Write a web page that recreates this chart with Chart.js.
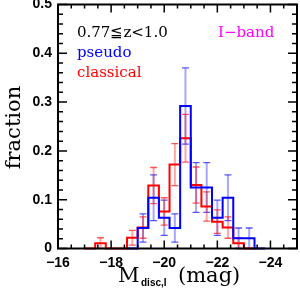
<!DOCTYPE html>
<html>
<head>
<meta charset="utf-8">
<script src="https://cdn.jsdelivr.net/npm/chart.js@4.4.1/dist/chart.umd.min.js"></script>
<style>
  html, body { margin: 0; padding: 0; background: #fff; }
</style>
</head>
<body>
<canvas id="myChart" width="300" height="304"></canvas>
<script>
// bin centres in mag, bins are 0.4 mag wide
const redBins = [-17.2, -17.6, -18.0, -18.4, -18.8, -19.2, -19.6, -20.0, -20.4, -20.8, -21.2, -21.6, -22.0, -22.4, -22.8, -23.2];
const redFrac = [0, 0.011, 0, 0, 0.022, 0.043, 0.129, 0.076, 0.172, 0.226, 0.130, 0.086, 0.055, 0.043, 0.011, 0];
const redErr  = [0, 0.011, 0, 0, 0.015, 0.022, 0.037, 0.028, 0.043, 0.049, 0.037, 0.030, 0.024, 0.022, 0.011, 0];

const blueBins = [-18.8, -19.2, -19.6, -20.0, -20.4, -20.8, -21.2, -21.6, -22.0, -22.4, -22.8, -23.2, -23.6];
const blueFrac = [0, 0.042, 0.104, 0.063, 0.042, 0.292, 0.125, 0.125, 0.063, 0.104, 0.021, 0.021, 0];
const blueErr  = [0, 0.029, 0.047, 0.036, 0.029, 0.078, 0.051, 0.051, 0.036, 0.047, 0.021, 0.021, 0];

const xTicks = [-16, -18, -20, -22, -24];
const yTicks = [0, 0.1, 0.2, 0.3, 0.4, 0.5];
const binWidth = 0.4;

let ctx = document.getElementById('myChart').getContext('2d');

function stepPoints(bins, frac) {
  let pts = [];
  for (let i = 0; i < bins.length; i++) {
    pts.push({ x: bins[i] + binWidth / 2, y: frac[i] });
  }
  let last = bins.length - 1;
  pts.push({ x: bins[last] - binWidth / 2, y: frac[last] });
  return pts;
}

function drawErr(c, xs, ys, bins, frac, err, rgb) {
  for (let i = 0; i < bins.length; i++) {
    if (err[i] <= 0) continue;
    let px = xs.getPixelForValue(bins[i]);
    let top = ys.getPixelForValue(frac[i] + err[i]);
    let bot = ys.getPixelForValue(Math.max(frac[i] - err[i], 0));
    c.strokeStyle = 'rgba(' + rgb + ',0.35)';
    c.lineWidth = 2;
    c.beginPath();
    c.moveTo(px, top);
    c.lineTo(px, bot);
    c.stroke();
    c.strokeStyle = 'rgba(' + rgb + ',0.65)';
    c.lineWidth = 1.3;
    c.beginPath();
    c.moveTo(px - 3.5, top);
    c.lineTo(px + 3.5, top);
    c.moveTo(px - 3.5, bot);
    c.lineTo(px + 3.5, bot);
    c.stroke();
  }
}

const errorBars = {
  id: 'errorBars',
  beforeDatasetsDraw(chart) {
    const c = chart.ctx;
    c.save();
    drawErr(c, chart.scales.x, chart.scales.y, blueBins, blueFrac, blueErr, '0,0,255');
    drawErr(c, chart.scales.x, chart.scales.y, redBins, redFrac, redErr, '255,0,0');
    c.restore();
  }
};

const frame = {
  id: 'frame',
  afterDraw(chart) {
    const c = chart.ctx;
    const a = chart.chartArea;
    const xs = chart.scales.x, ys = chart.scales.y;
    c.save();
    c.strokeStyle = '#000';
    c.lineWidth = 1.5;
    c.beginPath();
    for (let v = -16; v >= -25; v -= 0.5) {
      let px = xs.getPixelForValue(v);
      let len = (v % 2 === 0) ? 8 : 4;
      c.moveTo(px, a.bottom); c.lineTo(px, a.bottom - len);
      c.moveTo(px, a.top); c.lineTo(px, a.top + len);
    }
    for (let k = 0; k <= 25; k++) {
      let py = ys.getPixelForValue(k * 0.02);
      let len = (k % 5 === 0) ? 9 : 5;
      c.moveTo(a.left, py); c.lineTo(a.left + len, py);
      c.moveTo(a.right, py); c.lineTo(a.right - len, py);
    }
    c.stroke();
    c.lineWidth = 2;
    c.strokeRect(a.left, a.top, a.right - a.left, a.bottom - a.top);

    // labels inside the box
    c.textBaseline = 'middle';
    c.textAlign = 'left';
    c.font = '15px "DejaVu Serif"';
    c.fillStyle = '#000';
    c.fillText('0.77≦z<1.0', 77, 33);
    c.fillStyle = '#0000ff';
    c.fillText('pseudo', 77, 53);
    c.fillStyle = '#ff0000';
    c.fillText('classical', 77, 73);
    c.fillStyle = '#ff00ff';
    c.fillText('I−band', 218, 33);

    // axis titles
    c.fillStyle = '#000';
    c.textBaseline = 'alphabetic';
    c.font = '21px "DejaVu Serif"';
    c.fillText('M', 118, 282);
    c.fillText('(mag)', 178, 282);
    c.font = 'bold 10px "Liberation Sans"';
    c.fillText('disc,I', 141, 286);
    c.translate(20, 127.5);
    c.rotate(-Math.PI / 2);
    c.textAlign = 'center';
    c.font = '21px "DejaVu Serif"';
    c.fillText('fraction', 0, 0);
    c.restore();
  }
};

const tickFont = { family: 'Liberation Sans', size: 14, weight: 'bold' };

const myChart = new Chart(ctx, {
  type: 'line',
  data: {
    datasets: [{
      label: 'pseudo',
      data: stepPoints(blueBins, blueFrac),
      borderColor: '#0000ff',
      borderWidth: 2,
      stepped: 'before',
      pointRadius: 0,
      fill: false,
      clip: false
    }, {
      label: 'classical',
      data: stepPoints(redBins, redFrac),
      borderColor: '#ff0000',
      borderWidth: 2,
      stepped: 'before',
      pointRadius: 0,
      fill: false,
      clip: false
    }]
  },
  options: {
    responsive: false,
    animation: false,
    layout: { padding: { top: 4.5, right: 3, left: 0, bottom: 0 } },
    plugins: {
      legend: { display: false },
      tooltip: { enabled: false }
    },
    scales: {
      x: {
        type: 'linear',
        reverse: true,
        min: -25,
        max: -16,
        grid: { display: false, drawTicks: false },
        border: { display: false },
        afterBuildTicks: s => { s.ticks = xTicks.map(v => ({ value: v })); },
        afterFit: s => { s.height = 55.5; s.paddingLeft = 0; s.paddingRight = 0; },
        ticks: {
          padding: 6,
          color: '#000',
          font: tickFont,
          maxRotation: 0,
          autoSkip: false,
          callback: v => v < 0 ? '−' + Math.abs(v) : '' + v
        }
      },
      y: {
        min: 0,
        max: 0.5,
        grid: { display: false, drawTicks: false },
        border: { display: false },
        afterBuildTicks: s => { s.ticks = yTicks.map(v => ({ value: v })); },
        afterFit: s => { s.width = 58; s.paddingTop = 0; s.paddingBottom = 0; },
        ticks: {
          padding: 6,
          color: '#000',
          font: tickFont,
          callback: v => v === 0 ? '0' : v.toFixed(1)
        }
      }
    }
  },
  plugins: [errorBars, frame]
});
</script>
</body>
</html>
